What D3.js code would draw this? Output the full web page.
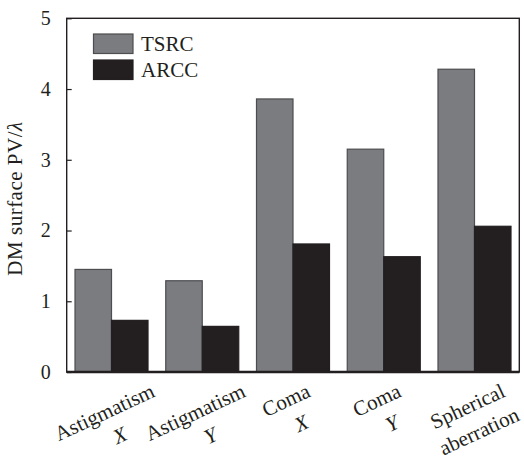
<!DOCTYPE html>
<html>
<head>
<meta charset="utf-8">
<script src="https://cdn.jsdelivr.net/npm/d3@7/dist/d3.min.js"></script>
<style>
  html, body { margin: 0; padding: 0; background: #fff; }
  svg { display: block; font-family: "Liberation Serif", "Times New Roman", serif; }
</style>
</head>
<body>
<svg id="chart" width="524" height="460"></svg>
<script>
// ---- data ----
const categoryLine1 = ["Astigmatism", "Astigmatism", "Coma", "Coma", "Spherical"];
const categoryLine2 = ["X", "Y", "X", "Y", "aberration"];
const seriesNames = ["TSRC", "ARCC"];
const tsrcValues = [1.45, 1.29, 3.86, 3.15, 4.28];
const arccValues = [0.73, 0.645, 1.81, 1.63, 2.06];
const yTicks = [0, 1, 2, 3, 4, 5];

const W = 524, H = 460;
const margin = { top: 18.3, right: 4.7, bottom: 88, left: 66.7 };
const x0 = margin.left, x1 = W - margin.right;
const y0 = H - margin.bottom, y1 = margin.top;

const colors = { TSRC: "#7b7c80", ARCC: "#231f20" };
const strokes = { TSRC: "#4d4d4f", ARCC: "#231f20" };

const svg = d3.select("#chart");

const groups = categoryLine1.map((c, i) => i);
const xScale = d3.scaleBand().domain(groups).range([x0, x1])
  .paddingInner(0.1956).paddingOuter(0.0915);
const xSub = d3.scaleBand().domain(seriesNames).range([0, xScale.bandwidth()]);
const yScale = d3.scaleLinear().domain([0, 5]).range([y0, y1]);

const seriesData = { TSRC: tsrcValues, ARCC: arccValues };

// bars
seriesNames.forEach(s => {
  svg.append("g").selectAll("rect")
    .data(seriesData[s])
    .join("rect")
    .attr("x", (d, i) => xScale(i) + xSub(s))
    .attr("y", d => yScale(d))
    .attr("width", xSub.bandwidth())
    .attr("height", d => yScale(0) - yScale(d))
    .attr("fill", colors[s])
    .attr("stroke", strokes[s])
    .attr("stroke-width", 1.2);
});

// y axis (inward ticks)
const yAxis = d3.axisLeft(yScale).tickValues(yTicks).tickSize(-5).tickPadding(16)
  .tickFormat(d3.format("d"));
const gy = svg.append("g").attr("transform", `translate(${x0},0)`).call(yAxis);
gy.select(".domain").remove();
gy.selectAll(".tick line").attr("stroke", "#231f20").attr("stroke-width", 1.2);
gy.selectAll(".tick text").attr("font-size", 20).attr("fill", "#231f20")
  .attr("font-family", "Liberation Serif, serif");

// frame
svg.append("rect")
  .attr("x", x0).attr("y", y1)
  .attr("width", x1 - x0).attr("height", y0 - y1)
  .attr("fill", "none").attr("stroke", "#231f20").attr("stroke-width", 1.4);
svg.append("line")
  .attr("x1", x0).attr("x2", x1).attr("y1", y0).attr("y2", y0)
  .attr("stroke", "#231f20").attr("stroke-width", 2.6);

// y title
const yt = svg.append("text")
  .attr("transform", `translate(22,198.5) rotate(-90)`)
  .attr("text-anchor", "middle")
  .attr("font-size", 21)
  .attr("letter-spacing", 0.5)
  .attr("fill", "#231f20");
yt.append("tspan").text("DM surface PV/");
yt.append("tspan").attr("font-style", "italic").text("λ");

// x labels: rotated -25deg, line-1 baseline end at a fixed height
const angle = 25, rad = angle * Math.PI / 180;
const baselineEndY = y0 + 24;
groups.forEach(i => {
  const cx = xScale(i) + xScale.bandwidth() / 2 - 4;
  const t = svg.append("text").attr("text-anchor", "middle")
    .attr("font-size", 21).attr("fill", "#231f20");
  const s1 = t.append("tspan").attr("x", 0).attr("y", 0).text(categoryLine1[i]);
  const l2 = categoryLine2[i];
  const italic = l2.length === 1;
  t.append("tspan").attr("x", italic ? 4 : 0).attr("y", 27.5)
    .attr("font-style", italic ? "italic" : "normal")
    .text(l2);
  const w1 = s1.node().getComputedTextLength();
  const oy = baselineEndY + (w1 / 2) * Math.sin(rad);
  t.attr("transform", `translate(${cx},${oy}) rotate(${-angle})`);
});

// legend
const legend = svg.append("g");
seriesNames.forEach((s, k) => {
  legend.append("rect")
    .attr("x", 93.5).attr("y", 34 + k * 26)
    .attr("width", 39.5).attr("height", 19.5)
    .attr("fill", colors[s]).attr("stroke", strokes[s]).attr("stroke-width", 1.2);
  legend.append("text")
    .attr("x", 141).attr("y", 50.5 + k * 26)
    .attr("font-size", 21).attr("fill", "#231f20")
    .text(s);
});
</script>
</body>
</html>
